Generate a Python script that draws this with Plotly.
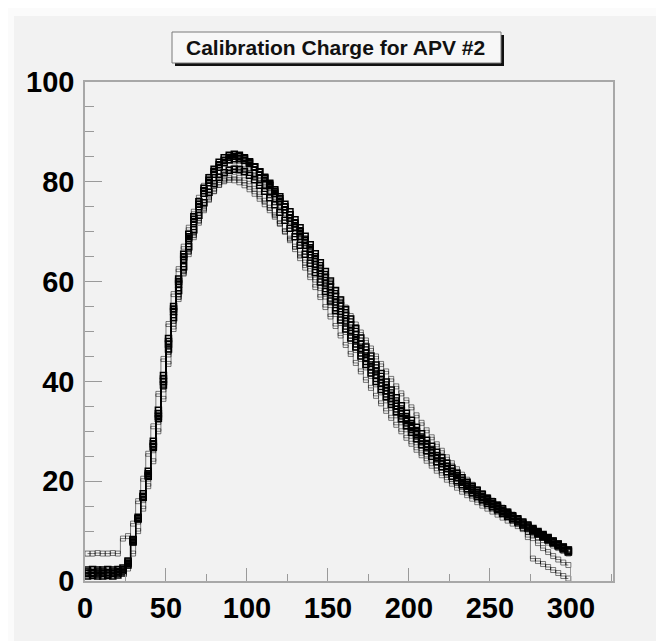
import plotly.graph_objects as go

# ---------------- data ----------------
x_centers = [
    1.56, 4.69, 7.81, 10.94, 14.06, 17.19, 20.31, 23.44, 26.56, 29.69, 32.81, 35.94,
    39.06, 42.19, 45.31, 48.44, 51.56, 54.69, 57.81, 60.94, 64.06, 67.19, 70.31, 73.44,
    76.56, 79.69, 82.81, 85.94, 89.06, 92.19, 95.31, 98.44, 101.56, 104.69, 107.81, 110.94,
    114.06, 117.19, 120.31, 123.44, 126.56, 129.69, 132.81, 135.94, 139.06, 142.19, 145.31, 148.44,
    151.56, 154.69, 157.81, 160.94, 164.06, 167.19, 170.31, 173.44, 176.56, 179.69, 182.81, 185.94,
    189.06, 192.19, 195.31, 198.44, 201.56, 204.69, 207.81, 210.94, 214.06, 217.19, 220.31, 223.44,
    226.56, 229.69, 232.81, 235.94, 239.06, 242.19, 245.31, 248.44, 251.56, 254.69, 257.81, 260.94,
    264.06, 267.19, 270.31, 273.44, 276.56, 279.69, 282.81, 285.94, 289.06, 292.19, 295.31, 298.44,
]

ch_a = [1.5, 1.5, 1.4, 1.5, 1.4, 1.5, 1.6, 2.0, 3.5, 8.0, 12.5, 17.0,
        21.5, 27.5, 33.5, 40.5, 48.0, 54.5, 60.0, 65.0, 69.0, 72.5, 75.5, 78.2,
        80.3, 82.0, 83.4, 84.3, 84.9, 85.1, 85.0, 84.6, 83.9, 83.0, 82.0, 80.8,
        79.5, 78.1, 76.6, 75.0, 73.4, 71.7, 70.0, 68.3, 66.5, 64.6, 62.7, 60.8,
        58.9, 57.0, 55.1, 53.2, 51.3, 49.4, 47.5, 45.7, 43.9, 42.1, 40.4, 38.8,
        37.2, 35.6, 34.1, 32.6, 31.2, 29.9, 28.6, 27.4, 26.2, 25.1, 24.0, 23.0,
        22.0, 21.1, 20.2, 19.4, 18.6, 17.8, 17.0, 16.3, 15.6, 14.9, 14.2, 13.6,
        12.9, 12.3, 11.6, 11.0, 10.3, 9.7, 9.1, 8.5, 7.9, 7.3, 6.7, 6.1]

ch_b = [2.2, 2.3, 2.2, 2.2, 2.3, 2.2, 2.3, 2.6, 4.0, 8.2, 12.5, 16.8,
        21.2, 27.0, 33.0, 40.0, 47.5, 54.0, 59.5, 64.5, 68.6, 72.0, 75.0, 77.7,
        79.8, 81.5, 82.9, 83.8, 84.4, 84.6, 84.6, 84.3, 83.7, 82.9, 82.0, 80.9,
        79.7, 78.4, 77.0, 75.5, 74.0, 72.4, 70.8, 69.1, 67.4, 65.6, 63.8, 62.0,
        60.1, 58.2, 56.3, 54.4, 52.5, 50.6, 48.7, 46.9, 45.1, 43.3, 41.6, 39.9,
        38.3, 36.7, 35.1, 33.6, 32.2, 30.8, 29.5, 28.2, 27.0, 25.8, 24.7, 23.6,
        22.6, 21.6, 20.7, 19.8, 19.0, 18.2, 17.4, 16.6, 15.9, 15.2, 14.5, 13.8,
        13.1, 12.5, 11.8, 11.2, 10.5, 9.9, 9.3, 8.7, 8.0, 7.4, 6.8, 6.2]

ch_c = [1.0, 1.1, 1.0, 1.0, 1.1, 1.0, 1.2, 1.6, 3.2, 7.8, 12.8, 17.5,
        22.0, 28.0, 34.2, 41.2, 48.6, 55.0, 60.5, 65.5, 69.5, 73.0, 76.0, 78.7,
        80.8, 82.5, 83.9, 84.8, 85.3, 85.5, 85.3, 84.8, 84.0, 83.0, 81.9, 80.6,
        79.2, 77.7, 76.1, 74.4, 72.7, 70.9, 69.1, 67.3, 65.4, 63.5, 61.6, 59.7,
        57.8, 55.9, 54.0, 52.1, 50.2, 48.4, 46.6, 44.8, 43.0, 41.3, 39.7, 38.1,
        36.5, 35.0, 33.5, 32.1, 30.7, 29.4, 28.1, 26.9, 25.8, 24.7, 23.6, 22.6,
        21.6, 20.7, 19.8, 19.0, 18.2, 17.4, 16.7, 16.0, 15.3, 14.6, 13.9, 13.3,
        12.6, 12.0, 11.4, 10.8, 10.1, 9.5, 8.9, 8.3, 7.7, 7.1, 6.5, 5.9]

ch_d = [1.8, 1.7, 1.8, 1.8, 1.7, 1.8, 1.9, 2.3, 3.8, 8.3, 12.6, 16.9,
        21.0, 26.8, 32.6, 39.3, 46.5, 52.8, 58.2, 63.0, 67.0, 70.4, 73.3, 75.8,
        77.9, 79.6, 80.9, 81.8, 82.3, 82.5, 82.4, 82.0, 81.3, 80.4, 79.3, 78.1,
        76.8, 75.4, 73.9, 72.3, 70.7, 69.0, 67.3, 65.5, 63.7, 61.8, 59.9, 58.0,
        56.1, 54.2, 52.3, 50.5, 48.7, 46.9, 45.1, 43.4, 41.7, 40.0, 38.4, 36.9,
        35.4, 33.9, 32.5, 31.1, 29.8, 28.5, 27.3, 26.1, 25.0, 23.9, 22.9, 21.9,
        21.0, 20.1, 19.3, 18.5, 17.7, 17.0, 16.3, 15.6, 14.9, 14.3, 13.6, 13.0,
        12.4, 11.8, 11.2, 10.6, 10.0, 9.4, 8.8, 8.2, 7.6, 7.0, 6.4, 5.8]

ch_e = [1.3, 1.2, 1.3, 1.3, 1.2, 1.3, 1.4, 1.8, 3.3, 7.6, 11.9, 16.2,
        20.5, 26.2, 31.9, 38.4, 45.4, 51.6, 56.9, 61.6, 65.5, 68.9, 71.8, 74.3,
        76.4, 78.1, 79.4, 80.3, 80.8, 81.0, 80.8, 80.3, 79.6, 78.6, 77.5, 76.2,
        74.8, 73.3, 71.7, 70.0, 68.3, 66.5, 64.7, 62.8, 60.9, 58.9, 56.9, 54.9,
        53.0, 51.1, 49.2, 47.3, 45.5, 43.7, 42.0, 40.3, 38.7, 37.1, 35.6, 34.1,
        32.7, 31.3, 30.0, 28.7, 27.5, 26.3, 25.2, 24.1, 23.1, 22.1, 21.2, 20.3,
        19.5, 18.7, 17.9, 17.2, 16.5, 15.8, 15.1, 14.5, 13.9, 13.3, 12.7, 12.1,
        11.5, 11.0, 10.4, 9.9, 9.3, 8.8, 8.2, 7.7, 7.1, 6.6, 6.0, 5.5]

ch_f = [1.6, 1.5, 1.6, 1.5, 1.6, 1.5, 1.6, 1.7, 2.5, 5.5, 10.0, 14.5,
        19.0, 24.0, 30.0, 36.5, 43.5, 50.5, 56.5, 61.8, 66.2, 70.0, 73.2, 75.9,
        78.1, 79.8, 81.1, 82.0, 82.5, 82.7, 82.6, 82.3, 81.8, 81.1, 80.3, 79.3,
        78.2, 77.0, 75.7, 74.3, 72.9, 71.4, 69.9, 68.3, 66.7, 65.0, 63.3, 61.6,
        59.9, 58.2, 56.5, 54.8, 53.1, 51.4, 49.8, 48.2, 46.6, 45.0, 43.5, 42.0,
        40.5, 39.0, 37.6, 36.2, 34.8, 33.2, 31.7, 30.2, 28.8, 27.4, 26.1, 24.8,
        23.6, 22.4, 21.3, 20.3, 19.3, 18.4, 17.6, 16.8, 16.1, 15.4, 14.7, 14.0,
        13.3, 12.6, 11.9, 11.3, 10.6, 10.0, 9.4, 8.8, 8.2, 7.6, 7.0, 6.4]

ch_g = [5.5, 5.5, 5.6, 5.5, 5.5, 5.6, 5.5, 8.5, 9.0, 11.5, 16.0, 20.5,
        25.5, 31.0, 37.5, 44.5, 51.5, 57.5, 62.5, 67.0, 70.8, 74.0, 76.8, 79.2,
        81.0, 82.4, 83.4, 84.0, 84.2, 84.1, 83.7, 83.1, 82.3, 81.3, 80.2, 79.0,
        77.7, 76.3, 74.8, 73.3, 71.7, 70.0, 68.3, 66.6, 64.8, 63.0, 61.2, 59.4,
        57.6, 55.8, 54.0, 52.2, 50.4, 48.6, 46.8, 45.1, 43.4, 41.8, 40.2, 38.6,
        37.1, 35.6, 34.1, 32.7, 31.3, 30.0, 28.7, 27.5, 26.3, 25.2, 24.1, 23.1,
        22.1, 21.2, 20.3, 19.5, 18.7, 17.9, 17.1, 16.4, 15.7, 15.0, 14.3, 13.7,
        12.8, 12.0, 10.6, 8.8, 4.5, 4.0, 3.4, 2.8, 2.2, 1.6, 1.0, 0.5]

ch_h = [2.0, 2.1, 2.0, 2.0, 2.1, 2.0, 2.1, 2.4, 3.6, 7.8, 12.2, 16.5,
        20.8, 26.5, 32.3, 39.0, 46.0, 52.2, 57.5, 62.2, 66.0, 69.3, 72.2, 74.6,
        76.6, 78.2, 79.4, 80.1, 80.4, 80.3, 79.9, 79.3, 78.5, 77.6, 76.6, 75.5,
        74.3, 73.0, 71.6, 70.1, 68.6, 67.0, 65.4, 63.8, 62.1, 60.4, 58.7, 57.0,
        55.3, 53.5, 51.7, 49.9, 48.1, 46.3, 44.5, 42.8, 41.1, 39.4, 37.8, 36.2,
        34.7, 33.2, 31.8, 30.4, 29.1, 27.8, 26.6, 25.4, 24.3, 23.2, 22.2, 21.3,
        20.4, 19.6, 18.8, 18.0, 17.3, 16.6, 15.9, 15.3, 14.7, 14.1, 13.5, 12.9,
        12.1, 11.4, 10.6, 9.8, 8.6, 7.6, 6.6, 5.8, 5.0, 4.3, 3.7, 3.2]

x_tick_vals = [0, 50, 100, 150, 200, 250, 300]
x_tick_text = ["0", "50", "100", "150", "200", "250", "300"]
y_tick_vals = [0, 20, 40, 60, 80, 100]
y_tick_text = ["0", "20", "40", "60", "80", "100"]
title_text = "Calibration Charge for APV #2"

# ---------------- layout geometry ----------------
W, H = 664, 641
ML, MR, MT, MB = 77, 59, 74, 68
PW, PH = W - ML - MR, H - MT - MB


def px_x(p):
    return (p - ML) / PW


def px_y(p):
    return (H - MB - p) / PH


BG = "#f2f2f2"
fig = go.Figure()

faint = [ch_g, ch_h, ch_e, ch_f]
strong = [ch_d, ch_b, ch_c, ch_a]

for ys in faint:
    fig.add_trace(go.Scatter(
        x=x_centers, y=ys, mode="lines+markers", line_shape="hvh",
        line=dict(color="rgba(0,0,0,0.5)", width=1),
        marker=dict(symbol="square-open", size=5, color="rgba(0,0,0,0.5)",
                    line=dict(width=1)),
        showlegend=False, hoverinfo="skip"))

for ys in strong:
    fig.add_trace(go.Scatter(
        x=x_centers, y=ys, mode="lines+markers", line_shape="hvh",
        line=dict(color="black", width=1.2),
        marker=dict(symbol="square-open", size=6, color="black",
                    line=dict(width=1.5)),
        showlegend=False, hoverinfo="skip"))

axis_font = dict(family="Liberation Sans, Arial, sans-serif", size=29,
                 color="black", weight="bold")

fig.update_xaxes(
    range=[0, 326], tickmode="array", tickvals=x_tick_vals, ticktext=x_tick_text,
    ticks="inside", ticklen=13, tickwidth=1, tickcolor="#9a9a9a",
    minor=dict(dtick=25, ticks="inside", ticklen=7, tickcolor="#9a9a9a", tickwidth=1),
    showline=True, linecolor="#a8a8a8", linewidth=1.5, mirror=True,
    showgrid=False, zeroline=False, tickfont=axis_font, ticklabelstandoff=0,
)
fig.update_yaxes(
    range=[0, 100], tickmode="array", tickvals=y_tick_vals, ticktext=y_tick_text,
    ticks="inside", ticklen=17, tickwidth=1, tickcolor="#9a9a9a",
    minor=dict(dtick=5, ticks="inside", ticklen=9, tickcolor="#9a9a9a", tickwidth=1),
    showline=True, linecolor="#a8a8a8", linewidth=1.5, mirror=True,
    showgrid=False, zeroline=False, tickfont=axis_font, ticklabelstandoff=3,
)

shapes = [
    # canvas bevel
    dict(type="rect", xref="paper", yref="paper", x0=px_x(0), x1=px_x(W), y0=px_y(0), y1=px_y(8),
         fillcolor="#fbfbfb", line=dict(width=0), layer="below"),
    dict(type="rect", xref="paper", yref="paper", x0=px_x(0), x1=px_x(6), y0=px_y(0), y1=px_y(H),
         fillcolor="#fbfbfb", line=dict(width=0), layer="below"),
    dict(type="line", xref="paper", yref="paper", x0=px_x(6), x1=px_x(W), y0=px_y(636), y1=px_y(636),
         line=dict(color="#cfcfcf", width=2), layer="below"),
    # title box shadow and box
    dict(type="rect", xref="paper", yref="paper", x0=px_x(167), x1=px_x(496), y0=px_y(58), y1=px_y(27),
         fillcolor="#111111", line=dict(width=0)),
    dict(type="rect", xref="paper", yref="paper", x0=px_x(164), x1=px_x(493), y0=px_y(55), y1=px_y(24),
         fillcolor="#f7f7f7", line=dict(color="#7a7a7a", width=1)),
]

fig.update_layout(
    width=W, height=H,
    margin=dict(l=ML, r=MR, t=MT, b=MB, pad=0),
    paper_bgcolor=BG, plot_bgcolor=BG,
    shapes=shapes,
    annotations=[dict(
        text="<b>" + title_text + "</b>", xref="paper", yref="paper",
        x=px_x(327), y=px_y(39.5), xanchor="center", yanchor="middle", showarrow=False,
        font=dict(family="Liberation Sans, Arial, sans-serif", size=21, color="#111111"))],
)

fig.write_html("out.html")
